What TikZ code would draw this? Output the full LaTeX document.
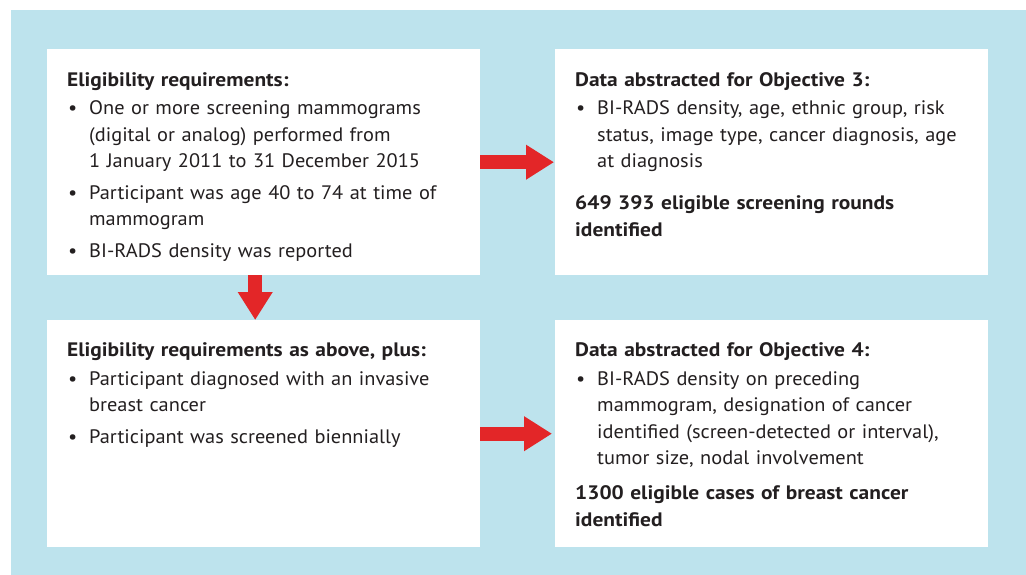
\documentclass[tikz,border=0pt]{standalone}
\usepackage{fontspec}
\setmainfont{PT Sans}[FakeStretch=1.045, BoldFeatures={FakeStretch=1.1}]
\usetikzlibrary{arrows.meta,calc}
\definecolor{bgblue}{RGB}{189,227,237}
\definecolor{arrred}{RGB}{227,38,40}
\definecolor{txtcol}{RGB}{35,31,32}
\newcommand\bulitem[1]{\par\noindent\hangindent=22pt\hangafter=0\llap{\makebox[22pt][l]{\hspace{1pt}•}}#1\par}
\newcommand\boxtitle[1]{{\bfseries #1}\par\vspace{-3pt}}
\begin{document}
\begin{tikzpicture}[x=1pt,y=-1pt,
  box/.style={fill=white, draw=none, minimum width=433pt, minimum height=226pt, inner sep=0pt, anchor=north west},
  txtbox/.style={anchor=base west, text width=430pt, inner sep=0pt, align=left, text=txtcol,
    font=\fontsize{19.5}{26.5}\selectfont},
  bigarrow/.style={draw=arrred, line width=14pt, -{Triangle[length=28pt,width=33pt]}}]
\useasboundingbox (0,0) rectangle (1026,575);
\fill[bgblue] (11,10) rectangle (1026,575);
\node[box] (tl) at (47,49) {};
\node[box] (tr) at (555,49) {};
\node[box, minimum height=227pt] (bl) at (47,320) {};
\node[box, minimum height=227pt] (br) at (555,320) {};

\node[txtbox] (tltext) at (67,86.5) {\setlength{\parskip}{5pt}%
\boxtitle{Eligibility requirements:}
\bulitem{One or more screening mammograms\newline (digital or analog) performed from\newline 1 January 2011 to 31 December 2015}
\bulitem{Participant was age 40 to 74 at time of\newline mammogram}
\bulitem{BI-RADS density was reported}};

\node[txtbox] (trtext) at (575,86.5) {\setlength{\parskip}{5pt}%
\boxtitle{Data abstracted for Objective 3:}
\bulitem{BI-RADS density, age, ethnic group, risk\newline status, image type, cancer diagnosis, age\newline at diagnosis}
\vspace{10.5pt}
{\bfseries 649 393 eligible screening rounds\newline identified}};

\node[txtbox] (bltext) at (67,356.5) {\setlength{\parskip}{5pt}%
\boxtitle{Eligibility requirements as above, plus:}
\bulitem{Participant diagnosed with an invasive\newline breast cancer}
\bulitem{Participant was screened biennially}};

\node[txtbox] (brtext) at (575,356.5) {\setlength{\parskip}{5pt}%
\boxtitle{Data abstracted for Objective 4:}
\bulitem{BI-RADS density on preceding\newline mammogram, designation of cancer\newline identified (screen-detected or interval),\newline tumor size, nodal involvement}
\vspace{3.5pt}
{\bfseries 1300 eligible cases of breast cancer\newline identified}};

\draw[bigarrow] (tl.east) -- ($(tr.west)+(-1,0)$);
\draw[bigarrow] ($(tl.south)+(-8.5,0)$) -- ($(bl.north)+(-8.5,0)$);
\draw[bigarrow] (bl.east) -- ($(br.west)+(-3,0)$);
\end{tikzpicture}
\end{document}
